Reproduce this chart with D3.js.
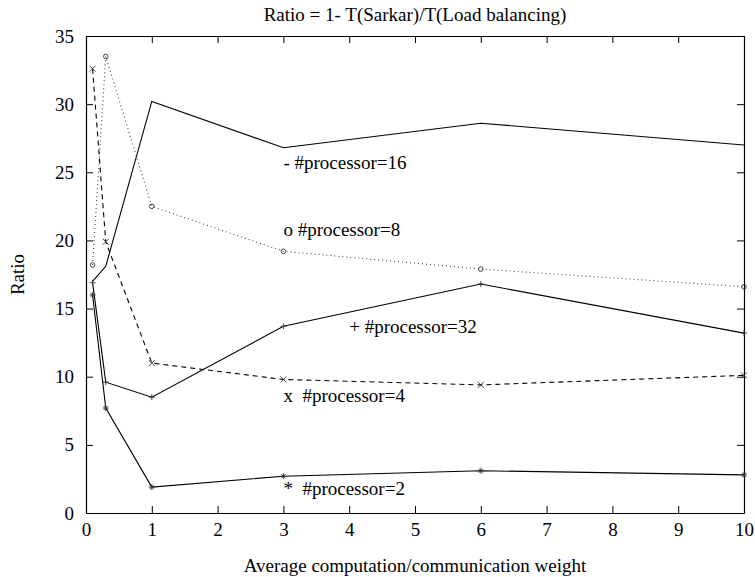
<!DOCTYPE html>
<html>
<head>
<meta charset="utf-8">
<script src="https://cdn.jsdelivr.net/npm/d3@7"></script>
<style>
  body { margin: 0; background: #fff; }
  text { font-family: "Liberation Serif", "DejaVu Serif", serif; fill: #000; }
</style>
</head>
<body>
<div class="canvas"></div>
<script>
// x values shared by all series
const weights = [0.1, 0.3, 1, 3, 6, 10];

const p16 = [17.0, 18.1, 30.2, 26.8, 28.6, 27.0];
const p8  = [18.2, 33.5, 22.5, 19.2, 17.9, 16.6];
const p32 = [16.9, 9.6, 8.5, 13.7, 16.8, 13.2];
const p4  = [32.6, 19.9, 11.0, 9.8, 9.4, 10.1];
const p2  = [16.0, 7.7, 1.9, 2.7, 3.1, 2.8];

const labels = ['- #processor=16', 'o #processor=8', '+ #processor=32', 'x  #processor=4', '*  #processor=2'];
// where the labels sit, in data units
const labelX = [3, 3, 4, 3, 3];
const labelY = [25.7, 20.8, 13.7, 8.65, 1.83];

const xTicks = [0, 1, 2, 3, 4, 5, 6, 7, 8, 9, 10];
const yTicks = [0, 5, 10, 15, 20, 25, 30, 35];

const width = 755, height = 577;
const margin = { top: 36, right: 11, bottom: 64, left: 86 };

const svg = d3.select('.canvas')
    .append('svg')
    .attr('width', width)
    .attr('height', height);

const x = d3.scaleLinear().domain([0, 10]).range([margin.left, width - margin.right]);
const y = d3.scaleLinear().domain([0, 35]).range([height - margin.bottom, margin.top]);

const fs = 19;
const tickLen = 7;

// axes, ticks pointing inward on all four sides
svg.append('g')
    .attr('transform', `translate(0,${y(0)})`)
    .call(d3.axisBottom(x).tickValues(xTicks).tickSizeInner(-tickLen).tickSizeOuter(0).tickPadding(10))
    .call(g => g.selectAll('text').attr('font-size', fs).attr('font-family', 'Liberation Serif'));

svg.append('g')
    .attr('transform', `translate(0,${y(35)})`)
    .call(d3.axisTop(x).tickValues(xTicks).tickSizeInner(-tickLen).tickSizeOuter(0).tickFormat(''));

svg.append('g')
    .attr('transform', `translate(${x(0)},0)`)
    .call(d3.axisLeft(y).tickValues(yTicks).tickSizeInner(-tickLen).tickSizeOuter(0).tickPadding(12))
    .call(g => g.selectAll('text').attr('font-size', fs).attr('font-family', 'Liberation Serif'));

svg.append('g')
    .attr('transform', `translate(${x(10)},0)`)
    .call(d3.axisRight(y).tickValues(yTicks).tickSizeInner(-tickLen).tickSizeOuter(0).tickFormat(''));

svg.selectAll('.domain').attr('stroke', '#000').attr('stroke-width', 1.2);
svg.selectAll('.tick line').attr('stroke', '#000');

const line = d3.line()
    .x((d, i) => x(weights[i]))
    .y(d => y(d));

const series = [
    { vals: p16, dash: null, color: '#000', mark: null },
    { vals: p8, dash: '1,3', color: '#444', mark: 'o' },
    { vals: p32, dash: null, color: '#000', mark: '+' },
    { vals: p4, dash: '5,4', color: '#000', mark: 'x' },
    { vals: p2, dash: null, color: '#000', mark: '*' }
];

const r = 3;
function markPath(m) {
    if (m === '+') return `M${-r},0H${r}M0,${-r}V${r}`;
    if (m === 'x') return `M${-r},${-r}L${r},${r}M${-r},${r}L${r},${-r}`;
    if (m === '*') return `M${-r},0H${r}M0,${-r}V${r}M${-r * 0.7},${-r * 0.7}L${r * 0.7},${r * 0.7}M${-r * 0.7},${r * 0.7}L${r * 0.7},${-r * 0.7}`;
    return '';
}

series.forEach(s => {
    svg.append('path')
        .datum(s.vals)
        .attr('fill', 'none')
        .attr('stroke', s.color)
        .attr('stroke-width', 1.1)
        .attr('stroke-dasharray', s.dash)
        .attr('d', line);

    if (!s.mark) return;
    const g = svg.selectAll(null)
        .data(s.vals)
        .enter()
        .append('g')
        .attr('transform', (d, i) => `translate(${x(weights[i])},${y(d)})`);
    if (s.mark === 'o') {
        g.append('circle').attr('r', 2.3).attr('fill', 'none').attr('stroke', '#333').attr('stroke-width', 0.9);
    } else {
        g.append('path').attr('d', markPath(s.mark)).attr('fill', 'none').attr('stroke', '#333').attr('stroke-width', 0.9);
    }
});

// labels inside the plot
svg.selectAll('.lab')
    .data(labels)
    .enter()
    .append('text')
    .attr('class', 'lab')
    .attr('x', (d, i) => x(labelX[i]))
    .attr('y', (d, i) => y(labelY[i]))
    .attr('dy', '0.35em')
    .attr('font-size', fs)
    .style('white-space', 'pre')
    .text(d => d);

// title and axis titles
svg.append('text')
    .attr('x', (x(0) + x(10)) / 2)
    .attr('y', 21)
    .attr('text-anchor', 'middle')
    .attr('font-size', fs)
    .text('Ratio = 1- T(Sarkar)/T(Load balancing)');

svg.append('text')
    .attr('x', (x(0) + x(10)) / 2)
    .attr('y', 572)
    .attr('text-anchor', 'middle')
    .attr('font-size', fs)
    .text('Average computation/communication weight');

svg.append('text')
    .attr('transform', `translate(24,${(y(0) + y(35)) / 2}) rotate(-90)`)
    .attr('text-anchor', 'middle')
    .attr('font-size', fs)
    .text('Ratio');
</script>
</body>
</html>
